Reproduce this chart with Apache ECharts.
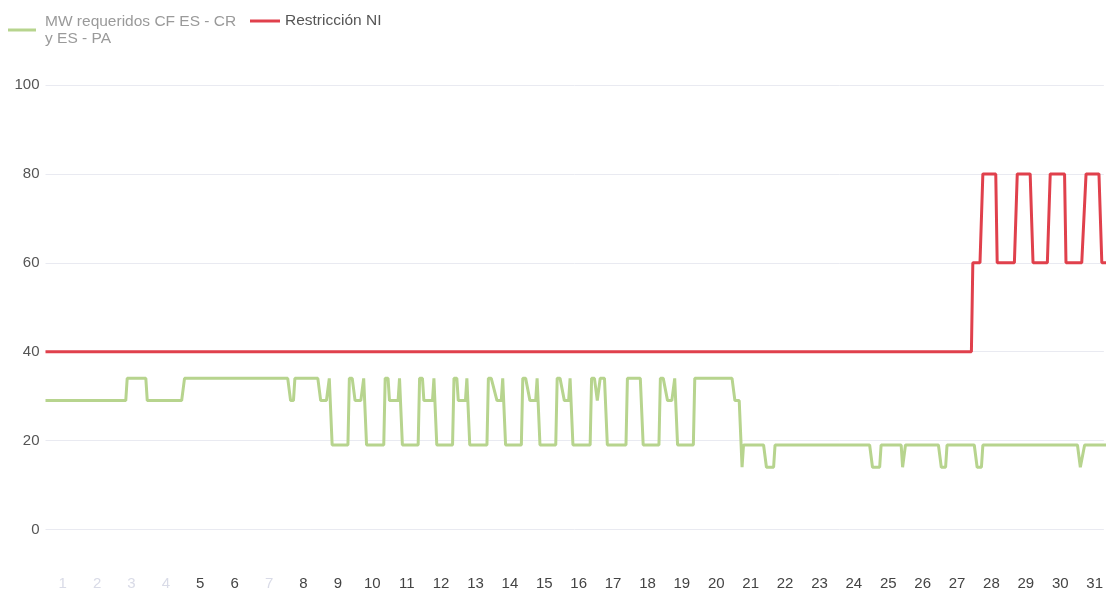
<!DOCTYPE html>
<html>
<head>
  <meta charset="utf-8">
  <title>MW requeridos</title>
  <script src="https://cdn.jsdelivr.net/npm/echarts@6/dist/echarts.min.js"></script>
  <style>
    html, body { margin: 0; padding: 0; background: #fff; }
    #chart { width: 1106px; height: 592px; }
  </style>
</head>
<body>
<div id="chart"></div>
<script>
  // dias del mes (etiquetas del eje x)
  var dayLabels = ['1','2','3','4','5','6','7','8','9','10','11','12','13','14','15','16',
                   '17','18','19','20','21','22','23','24','25','26','27','28','29','30','31'];
  var fadedLabels = ['1','2','3','4','7'];
  var yTicks = [0, 20, 40, 60, 80, 100];

  var greenName = 'MW requeridos CF ES - CR\ny ES - PA';
  var redName = 'Restricción NI';

  // horas desde el inicio del mes, y el valor en cada quiebre
  var greenHours = [0, 56, 57, 70, 71, 95, 97, 169, 171, 173, 174, 190, 192, 196, 198, 200,
    211, 212, 214, 216, 220, 222, 224,
    236, 237, 239, 240, 246, 247, 249,
    260, 261, 263, 264, 270, 271, 273,
    284, 285, 287, 288, 293, 294, 296,
    308, 309, 311, 315, 318, 319, 321,
    332, 333, 335, 338, 342, 343, 345,
    356, 357, 359, 362, 365, 366, 368,
    380, 381, 383, 385, 387, 390, 392,
    405, 406, 415, 417,
    428, 429, 431, 434, 437, 439, 441,
    452, 453, 479, 481, 484, 486, 487,
    501, 503, 508, 509,
    575, 577, 582, 583,
    597, 598, 599, 600,
    623, 625, 628, 629,
    648, 650, 653, 654,
    720, 722, 723, 725, 744];
  var greenMW = [29, 29, 34, 34, 29, 29, 34, 34, 29, 29, 34, 34, 29, 29, 34, 19,
    19, 34, 34, 29, 29, 34, 19,
    19, 34, 34, 29, 29, 34, 19,
    19, 34, 34, 29, 29, 34, 19,
    19, 34, 34, 29, 29, 34, 19,
    19, 34, 34, 29, 29, 34, 19,
    19, 34, 34, 29, 29, 34, 19,
    19, 34, 34, 29, 29, 34, 19,
    19, 34, 34, 29, 34, 34, 19,
    19, 34, 34, 19,
    19, 34, 34, 29, 29, 34, 19,
    19, 34, 34, 29, 29, 14, 19,
    19, 14, 14, 19,
    19, 14, 14, 19,
    19, 14, 14, 19,
    19, 14, 14, 19,
    19, 14, 14, 19,
    19, 14, 14, 19, 19];

  var redHours = [0, 646, 647, 652, 654, 663, 664, 676, 678, 687, 689, 699, 701, 711, 712, 723, 726, 735, 737, 744];
  var redMW = [40, 40, 60, 60, 80, 80, 60, 60, 80, 80, 60, 60, 80, 80, 60, 60, 80, 80, 60, 60];

  function pairs(xs, ys) {
    var out = [];
    for (var i = 0; i < xs.length; i++) out.push([xs[i], ys[i]]);
    return out;
  }

  // cada etiqueta va en el mediodia de su dia
  var dayCenters = dayLabels.map(function (d, i) { return i * 24 + 12; });
  function dayOf(v) { return dayLabels[Math.round((Number(v) - 12) / 24)]; }

  var chart = echarts.init(document.getElementById('chart'), null, { renderer: 'canvas' });
  var font = 'Liberation Sans, Arial, sans-serif';

  var option = {
    animation: false,
    backgroundColor: '#ffffff',
    legend: [
      {
        data: [greenName],
        left: 8, top: 13, padding: 0,
        icon: 'rect', itemWidth: 28, itemHeight: 3,
        textStyle: { fontFamily: font, fontSize: 15.5, lineHeight: 17, color: '#9a9a9a', padding: [0, 0, 0, 4] }
      },
      {
        data: [redName],
        left: 250, top: 13, padding: 0,
        icon: 'rect', itemWidth: 30, itemHeight: 3,
        textStyle: { fontFamily: font, fontSize: 15.5, lineHeight: 16, color: '#555' }
      }
    ],
    grid: { left: 45.5, right: 0, top: 85, bottom: 62.5 },
    xAxis: {
      type: 'value',
      min: 0, max: 738.4,
      axisLine: { show: false },
      axisTick: { show: false },
      splitLine: { show: false },
      axisLabel: {
        customValues: dayCenters,
        margin: 47, fontFamily: font, fontSize: 15,
        formatter: function (v) { return dayOf(v); },
        color: function (v) { return fadedLabels.indexOf(dayOf(v)) >= 0 ? '#d9dbe7' : '#444'; }
      }
    },
    yAxis: {
      type: 'value',
      min: yTicks[0], max: yTicks[yTicks.length - 1], interval: 20,
      axisLine: { show: false },
      axisTick: { show: false },
      axisLabel: { margin: 6, fontFamily: font, fontSize: 15, color: '#555' },
      splitLine: { lineStyle: { color: '#e9eaf1', width: 1 } }
    },
    series: [
      {
        name: greenName, type: 'line',
        data: pairs(greenHours, greenMW),
        showSymbol: false, color: '#b7d48e',
        lineStyle: { width: 3, color: '#b7d48e' }
      },
      {
        name: redName, type: 'line',
        data: pairs(redHours, redMW),
        showSymbol: false, color: '#e0404c',
        lineStyle: { width: 3, color: '#e0404c' }
      }
    ]
  };

  chart.setOption(option);
  window.onresize = function () { chart.resize(); };
</script>
</body>
</html>
